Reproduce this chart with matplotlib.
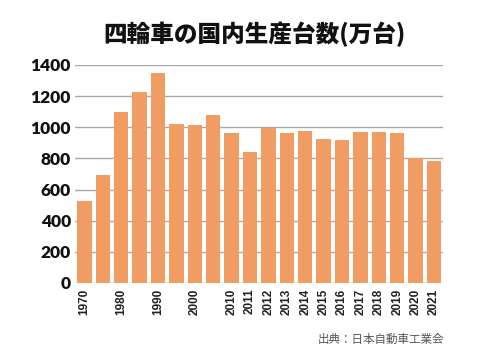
import matplotlib
matplotlib.use('Agg')
import matplotlib.pyplot as plt
import numpy as np

years = ['1970', '1975', '1980', '1985', '1990', '1995', '2000', '2005',
         '2010', '2011', '2012', '2013', '2014', '2015', '2016', '2017',
         '2018', '2019', '2020', '2021']
tick_labels = ['1970', '', '1980', '', '1990', '', '2000', '',
               '2010', '2011', '2012', '2013', '2014', '2015', '2016', '2017',
               '2018', '2019', '2020', '2021']
production = [528, 694, 1100, 1224, 1346, 1019, 1013, 1079,
              962, 840, 994, 962, 976, 927, 919, 968,
              972, 966, 803, 784]

plt.rcParams['font.family'] = ['Noto Sans CJK JP', 'DejaVu Sans']

fig = plt.figure(figsize=(4.98, 3.59), dpi=100)
ax = fig.add_axes([0.151, 0.212, 0.739, 0.607])

x = np.arange(len(years))
ax.bar(x, production, width=0.78, color='#F09C62', zorder=2)

ax.set_xlim(-0.5, len(years) - 0.5)
ax.set_ylim(0, 1400)
ax.set_yticks(range(0, 1401, 200))
ax.set_yticklabels([str(v) for v in range(0, 1401, 200)],
                   fontsize=12.5, fontweight='heavy', family=['Lato', 'DejaVu Sans'],
                   color='#111111')
ax.set_xticks(x)
ax.set_xticklabels(tick_labels, rotation=90, fontsize=8.5, fontweight='bold',
                   family=['Liberation Sans', 'DejaVu Sans'], color='#222222')
ax.tick_params(axis='both', length=0)
ax.tick_params(axis='x', pad=4)
ax.tick_params(axis='y', pad=3)

ax.grid(axis='y', color='#AAAAAA', linewidth=1.0, zorder=1)
for s in ax.spines.values():
    s.set_visible(False)

fig.text(0.51, 0.905, '四輪車の国内生産台数(万台)', ha='center', va='center',
         fontsize=17, fontweight='heavy', color='#111111')
fig.text(0.893, 0.055, '出典：日本自動車工業会', ha='right', va='center',
         fontsize=8.3, color='#555555')

fig.savefig('out.png', dpi=100)
